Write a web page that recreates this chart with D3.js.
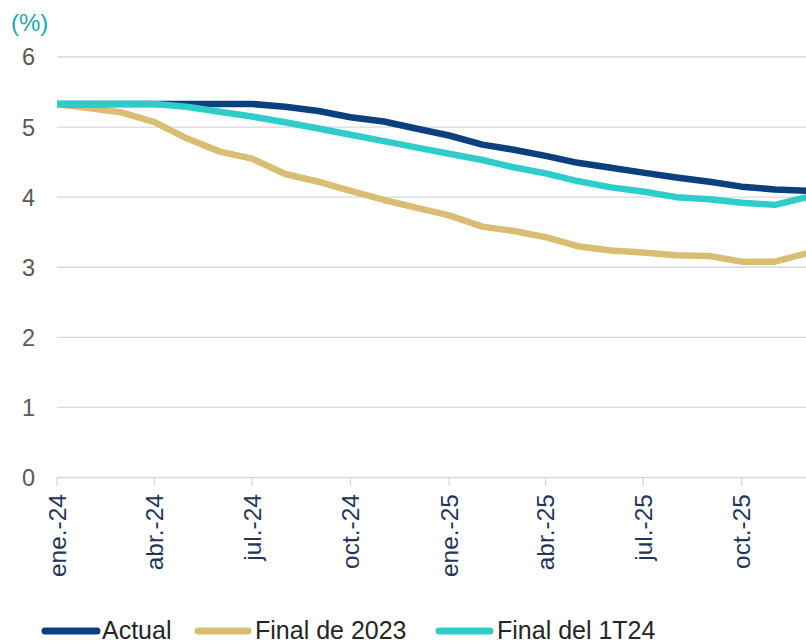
<!DOCTYPE html>
<html><head><meta charset="utf-8">
<script src="https://cdn.jsdelivr.net/npm/d3@7"></script>
<style>body{margin:0;background:#fff}svg{display:block}</style>
</head><body>
<svg id="c" width="806" height="644"></svg>
<script>
const months = ["2024-01","2024-02","2024-03","2024-04","2024-05","2024-06","2024-07","2024-08","2024-09","2024-10","2024-11","2024-12",
"2025-01","2025-02","2025-03","2025-04","2025-05","2025-06","2025-07","2025-08","2025-09","2025-10","2025-11","2025-12"];
const actual =   [5.33,5.33,5.33,5.33,5.33,5.33,5.33,5.29,5.23,5.14,5.08,4.98,4.88,4.75,4.68,4.59,4.49,4.42,4.35,4.28,4.22,4.15,4.11,4.09];
const final2023 =[5.33,5.27,5.21,5.07,4.84,4.65,4.55,4.33,4.22,4.09,3.96,3.85,3.74,3.58,3.52,3.43,3.30,3.24,3.21,3.17,3.16,3.08,3.08,3.20];
const final1T24 =[5.33,5.33,5.33,5.33,5.29,5.22,5.15,5.07,4.98,4.89,4.80,4.71,4.62,4.53,4.43,4.34,4.23,4.14,4.08,4.00,3.97,3.92,3.89,4.00];
const seriesNames = ["Actual","Final de 2023","Final del 1T24"];
const seriesColors = ["#0b3f7e","#d8bd72","#2fcdca"];
const tickMonths = ["2024-01","2024-04","2024-07","2024-10","2025-01","2025-04","2025-07","2025-10"];
const tickLabels = ["ene.-24","abr.-24","jul.-24","oct.-24","ene.-25","abr.-25","jul.-25","oct.-25"];
const yTicks = [0,1,2,3,4,5,6];

const parse = d3.timeParse("%Y-%m");
const svg = d3.select("#c");
const font = "'Liberation Sans', Arial, sans-serif";
const x = d3.scaleTime().domain([parse("2024-01"), parse("2025-12")]).range([57, 807]);
const y = d3.scaleLinear().domain([0,6]).range([477.5, 57]);

// gridlines
svg.append("g").selectAll("line").data(yTicks).join("line")
  .attr("x1",57).attr("x2",806).attr("y1",d=>y(d)).attr("y2",d=>y(d))
  .attr("stroke","#d9d9d9").attr("stroke-width",1.3);

// y labels
svg.append("g").selectAll("text").data(yTicks).join("text")
  .attr("x",35).attr("y",d=>y(d)).attr("dy","0.36em").attr("text-anchor","end")
  .attr("font-family",font).attr("font-size",23.5).attr("fill","#595959").text(d=>d);

svg.append("text").attr("x",11).attr("y",31).attr("font-family",font).attr("font-size",24)
  .attr("fill","#1aabad").text("(%)");

// x ticks
const tg = svg.append("g").selectAll("g").data(tickMonths).join("g")
  .attr("transform",d=>`translate(${x(parse(d))},0)`);
tg.append("line").attr("y1",477.5).attr("y2",486).attr("stroke","#d9d9d9").attr("stroke-width",1.3);
tg.append("text").attr("transform","translate(0,494) rotate(-90)")
  .attr("text-anchor","end").attr("dy","0.36em")
  .attr("font-family",font).attr("font-size",24.5).attr("fill","#1f3659")
  .text((d,i)=>tickLabels[i]);

// lines
const data = [actual, final2023, final1T24];
const line = d3.line().x((d,i)=>x(parse(months[i]))).y(d=>y(d));
const order = [1,0,2];
order.forEach(k=>{
  svg.append("path").datum(data[k]).attr("d",line).attr("fill","none")
    .attr("stroke",seriesColors[k]).attr("stroke-width",6.5).attr("stroke-linejoin","round");
});

// legend
const legX = [[42,100,102],[195,251,255],[436,493,497]];
seriesNames.forEach((n,i)=>{
  svg.append("line").attr("x1",legX[i][0]+3).attr("x2",legX[i][1]-3).attr("y1",631).attr("y2",631)
    .attr("stroke",seriesColors[i]).attr("stroke-width",7).attr("stroke-linecap","round");
  svg.append("text").attr("x",legX[i][2]).attr("y",638.5).attr("font-family",font).attr("font-size",25)
    .attr("fill","#262626").text(n);
});
</script>
</body></html>
